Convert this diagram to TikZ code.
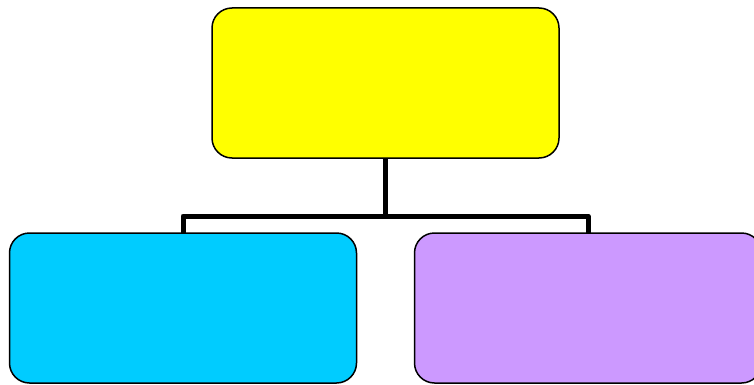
\documentclass[tikz,border=0pt]{standalone}
\usetikzlibrary{backgrounds}
\begin{document}
\begin{tikzpicture}[x=1pt,y=1pt,
  box/.style={draw=black,line width=1.5pt,rounded corners=20pt,minimum width=347pt,minimum height=150pt,inner sep=0pt,outer sep=0pt},
  conn/.style={draw=black,line width=5pt,line join=round,line cap=round}]
\useasboundingbox (0,0) rectangle (754,384);
\node[box,fill={rgb,255:red,255;green,255;blue,0}] (top) at (385.5,301) {};
\node[box,fill={rgb,255:red,0;green,204;blue,255}] (left) at (183,76) {};
\node[box,fill={rgb,255:red,204;green,153;blue,255}] (right) at (588,76) {};
\coordinate (mid) at (385.5,168);
\begin{scope}[on background layer]
\draw[conn] (top.south) -- (mid);
\draw[conn] (left.north) |- (mid) -| (right.north);
\end{scope}
\end{tikzpicture}
\end{document}
